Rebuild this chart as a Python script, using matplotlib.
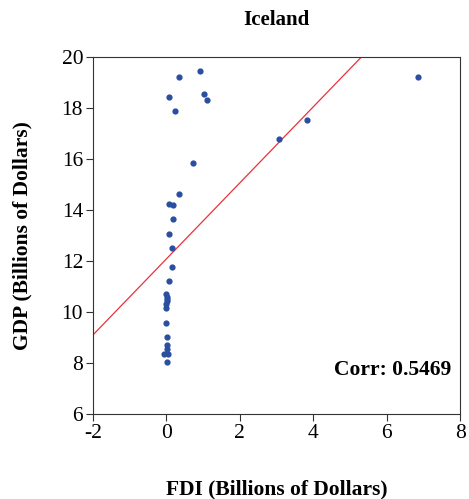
import matplotlib
matplotlib.use('Agg')
import matplotlib.pyplot as plt

plt.rcParams['font.family'] = ['Liberation Serif', 'DejaVu Serif']
plt.rcParams['axes.unicode_minus'] = False

fdi = [0.34, 0.91, 0.08, 1.02, 1.10, 0.25, 0.74, 0.34, 0.08, 0.17, 0.17, 0.06, 0.15,
       0.15, 0.08, 0.00, 0.02, 0.01, 0.01, 0.00, 0.00, 0.00, 0.02, 0.01, 0.03, -0.05,
       0.05, 0.01, 3.08, 3.84, 6.85]
gdp = [19.20, 19.44, 18.43, 18.54, 18.30, 17.87, 15.83, 14.63, 14.25, 14.18, 13.66, 13.05, 12.52,
       11.75, 11.20, 10.69, 10.60, 10.50, 10.42, 10.33, 10.17, 9.58, 9.02, 8.72, 8.56, 8.37,
       8.37, 8.03, 16.80, 17.52, 19.22]

fit_slope = 1.49
fit_intercept = 12.08
corr = 0.5469

fig = plt.figure(figsize=(4.69, 4.99), dpi=100)
ax = fig.add_axes([0.198, 0.170, 0.783, 0.716])

xs = [-2, 8]
ax.plot(xs, [fit_intercept + fit_slope * x for x in xs], color='#e8323a', lw=0.9)
ax.scatter(fdi, gdp, s=12, color='#2a4ea0', zorder=3)

ax.set_xlim(-2, 8)
ax.set_ylim(6, 20)
ax.set_xticks([-2, 0, 2, 4, 6, 8])
ax.set_yticks([6, 8, 10, 12, 14, 16, 18, 20])
ax.tick_params(labelsize=15.5, direction='out', length=5, color='#333333', pad=2)
for s in ax.spines.values():
    s.set_color('#333333')

ax.set_xlabel('FDI (Billions of Dollars)', fontsize=15.5, fontweight='bold', labelpad=26)
ax.set_ylabel('GDP (Billions of Dollars)', fontsize=15.5, fontweight='bold', labelpad=21)
ax.set_title('Iceland', fontsize=15, fontweight='bold', pad=23)
ax.text(0.975, 0.125, 'Corr: %.4f' % corr, transform=ax.transAxes, ha='right', va='center',
        fontsize=15.5, fontweight='bold')

fig.savefig('out.png', dpi=100)
